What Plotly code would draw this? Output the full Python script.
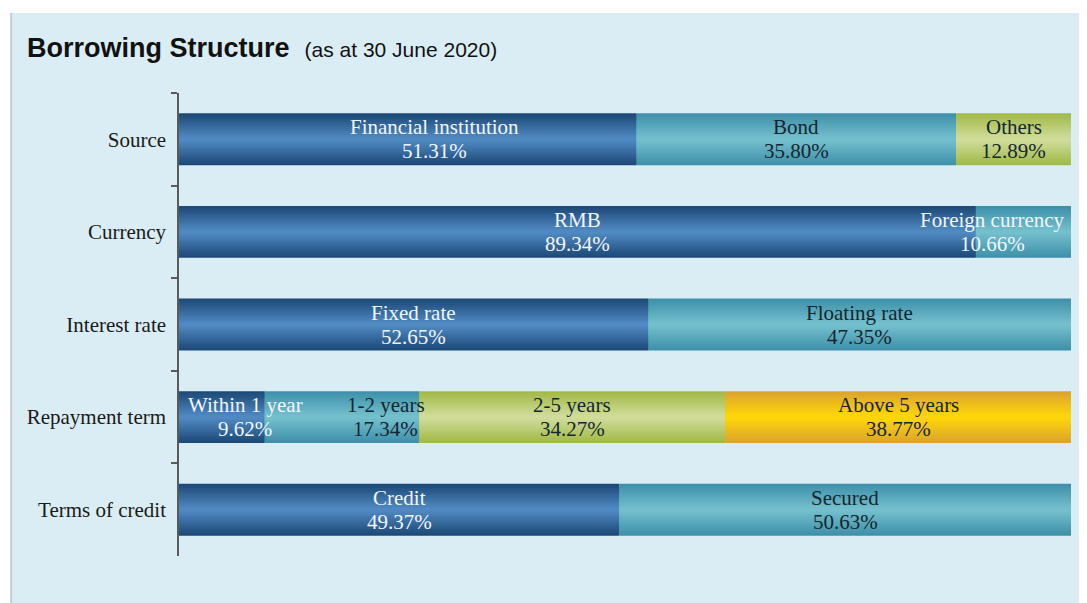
import plotly.graph_objects as go

# ---------------- data ----------------
categories = ["Source", "Currency", "Interest rate", "Repayment term", "Terms of credit"]

source_names = ["Financial institution", "Bond", "Others"]
source_values = [51.31, 35.80, 12.89]

currency_names = ["RMB", "Foreign currency"]
currency_values = [89.34, 10.66]

interest_names = ["Fixed rate", "Floating rate"]
interest_values = [52.65, 47.35]

repayment_names = ["Within 1 year", "1-2 years", "2-5 years", "Above 5 years"]
repayment_values = [9.62, 17.34, 34.27, 38.77]

credit_names = ["Credit", "Secured"]
credit_values = [49.37, 50.63]

title_main = "Borrowing Structure"
title_sub = "(as at 30 June 2020)"

# ---------------- styles ----------------
rows = [
    (source_names, source_values),
    (currency_names, currency_values),
    (interest_names, interest_values),
    (repayment_names, repayment_values),
    (credit_names, credit_values),
]
# (edge colour, centre colour) per segment position
palette = [
    ("#1d4a78", "#5089c2"),
    ("#3f91ab", "#74bfcd"),
    ("#a2ba48", "#d0dc9a"),
    ("#dba52e", "#ffd50a"),
]
white_labels = {"Financial institution", "RMB", "Foreign currency", "Fixed rate",
                "Within 1 year", "Credit"}
label_shift = {"Financial institution": 3.0, "Within 1 year": 2.6, "1-2 years": 4.9,
               "Foreign currency": -3.5}

BAR_W = 0.56
N_LAYERS = 12
SERIF = "Liberation Serif, Times New Roman, serif"
LABEL_SIZE = 21


def hex2rgb(h):
    h = h.lstrip("#")
    return tuple(int(h[i:i + 2], 16) for i in (0, 2, 4))


def lerp(c1, c2, t):
    a, b = hex2rgb(c1), hex2rgb(c2)
    return "rgb(%d,%d,%d)" % tuple(round(a[i] + (b[i] - a[i]) * t) for i in range(3))


fig = go.Figure()
annotations = []

for cat, (names, values) in zip(categories, rows):
    base = 0.0
    for j, (name, val) in enumerate(zip(names, values)):
        edge, centre = palette[j]
        for k in range(N_LAYERS):
            t = k / (N_LAYERS - 1)
            fig.add_trace(go.Bar(
                y=[cat], x=[val], base=[base], orientation="h",
                width=BAR_W * (1 - k / N_LAYERS),
                marker=dict(color=lerp(edge, centre, t), line=dict(width=0)),
                showlegend=False, hoverinfo="skip",
            ))
        colour = "#f2f6fa" if name in white_labels else "#14262e"
        xc = base + val / 2 + label_shift.get(name, 0)
        for txt, shift in ((name, 12), (f"{val:.2f}%", -12)):
            annotations.append(dict(
                x=xc, y=cat, xref="x", yref="y", yshift=shift,
                text=txt, showarrow=False,
                font=dict(family=SERIF, size=LABEL_SIZE, color=colour),
            ))
        base += val

# title
annotations.append(dict(
    xref="paper", yref="paper", x=-0.1726, y=1.097, xanchor="left", yanchor="middle",
    text=f"<b>{title_main}</b>&nbsp; <span style='font-size:21px'>{title_sub}</span>",
    showarrow=False,
    font=dict(family="Liberation Sans, Arial, sans-serif", size=27, color="#111111"),
))

shapes = [
    dict(type="rect", xref="paper", yref="paper", x0=-0.1883, x1=1.05, y0=-0.2, y1=1.1728,
         fillcolor="#dbedf4", line=dict(width=0), layer="below"),
    dict(type="line", xref="paper", yref="paper", x0=-0.1883, x1=-0.1883, y0=-0.2, y1=1.1728,
         line=dict(color="#b9c2c6", width=1.5), layer="below"),
]

fig.update_layout(
    width=1087, height=603,
    margin=dict(l=171, r=24, t=85, b=55),
    barmode="overlay",
    paper_bgcolor="white",
    plot_bgcolor="rgba(0,0,0,0)",
    annotations=annotations,
    shapes=shapes,
    xaxis=dict(range=[0, 100], visible=False, fixedrange=True),
    yaxis=dict(
        categoryorder="array", categoryarray=categories,
        range=[4.5, -0.5],
        showline=True, linecolor="#5a5a5a", linewidth=1.5,
        ticks="outside", tickson="boundaries", ticklen=6, tickcolor="#5a5a5a",
        tickwidth=1.5, showgrid=False, zeroline=False,
        tickfont=dict(family=SERIF, size=LABEL_SIZE, color="#1a1a1a"),
        ticklabelstandoff=7,
    ),
)

fig.write_html("out.html")
